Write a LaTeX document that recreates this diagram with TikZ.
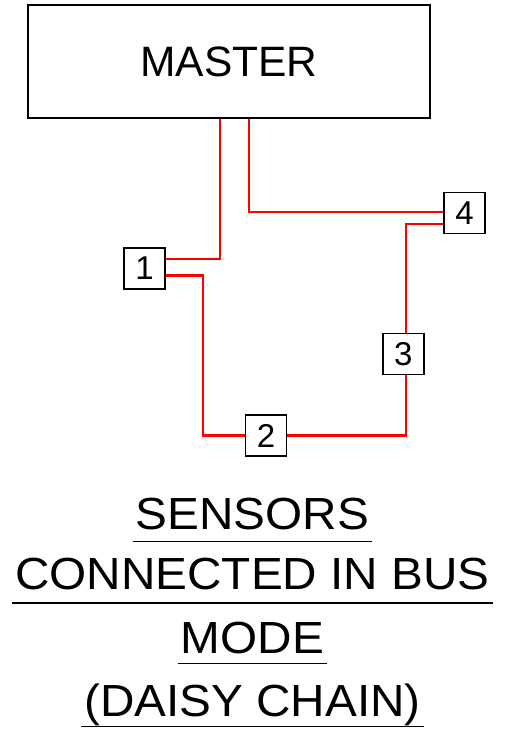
\documentclass[tikz,border=0pt]{standalone}
\usepackage{fontspec}
\setmainfont{Liberation Sans}
\newfontfamily\captionfont[FakeStretch=1.06]{Liberation Sans}
\begin{document}
\begin{tikzpicture}[x=1pt,y=-1pt,
  wire/.style={red,line width=2.4pt},
  sensorbox/.style={draw=black,line width=1.5pt,minimum width=41pt,minimum height=41pt,inner sep=0pt,font=\fontsize{33}{33}\selectfont},
  masterbox/.style={draw=black,line width=1.5pt,minimum width=402pt,minimum height=113pt,inner sep=0pt,font=\fontsize{42.5}{42.5}\selectfont},
  captionline/.style={anchor=base,inner xsep=3pt,inner ysep=0pt,font=\captionfont\fontsize{45}{45}\selectfont},
  uline/.style={black,line width=1.5pt}]
\useasboundingbox (0,0) rectangle (504,731);
\node[masterbox] (m) at (229,61.5) {MASTER};
\node[sensorbox] (b1) at (144.5,268.5) {1};
\node[sensorbox] (b2) at (266,435.5) {2};
\node[sensorbox] (b3) at (403.3,354) {3};
\node[sensorbox] (b4) at (464.5,213) {4};
% wires
\draw[wire] ([xshift=-9pt]m.south) |- ([yshift=9.5pt]b1.east);
\draw[wire] ([yshift=-7pt]b1.east) -| ([xshift=-41.7pt]b2.west) -- (b2.west);
\draw[wire] (b2.east) -| ([xshift=2.7pt]b3.south);
\draw[wire] ([xshift=2.7pt]b3.north) |- ([yshift=-11pt]b4.west);
\draw[wire] ([xshift=20pt]m.south) |- ([yshift=1.3pt]b4.west);
% caption
\node[captionline] (t1) at (252.5,529.5) {SENSORS};
\node[captionline] (t2) at (252.5,589) {CONNECTED IN BUS};
\node[captionline] (t3) at (252.5,653) {MODE};
\node[captionline] (t4) at (252.5,716) {(DAISY CHAIN)};
\draw[uline] ([yshift=-12pt]t1.base west) -- ([yshift=-12pt]t1.base east);
\draw[uline] ([yshift=-14pt]t2.base west) -- ([yshift=-14pt]t2.base east);
\draw[uline] ([yshift=-10.5pt]t3.base west) -- ([yshift=-10.5pt]t3.base east);
\draw[uline] ([yshift=-10.5pt]t4.base west) -- ([yshift=-10.5pt]t4.base east);
\end{tikzpicture}
\end{document}
